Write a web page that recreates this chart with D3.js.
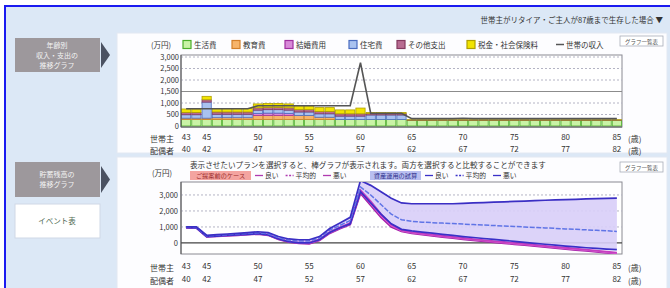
<!DOCTYPE html>
<html>
<head>
<meta charset="utf-8">
<script src="https://cdn.jsdelivr.net/npm/d3@7"></script>
<style>
  body{margin:0;background:#fff;}
  svg{display:block;font-family:"Noto Sans CJK JP","Noto Sans",sans-serif;}
</style>
</head>
<body>
<div id="chart"></div>
<script>
  // 年齢（世帯主）
  var ages = [43,44,45,46,47,48,49,50,51,52,53,54,55,56,57,58,59,60,61,62,63,64,65,66,67,68,69,70,71,72,73,74,75,76,77,78,79,80,81,82,83,84,85];
  var headTicks = [43,45,50,55,60,65,70,75,80,85];
  var spouseTicks = [40,42,47,52,57,62,67,72,77,82];
  var topTicks = [0,500,1000,1500,2000,2500,3000];
  var bottomTicks = [0,1000,2000,3000];

  // 支出の内訳（万円）
  var costKeys = ["生活費","教育費","結婚費用","住宅費","その他支出","税金・社会保険料"];
  var livingCost = [280,280,280,280,280,280,280,280,280,280, 280,280,280,280,280,280,280,280,280,280, 280,280,250,250,250,250,250,250,250,250, 250,250,250,250,250,250,250,250,250,250, 250,250,250];
  var educationCost = [60,60,60,80,80,80,80,180,180,180, 180,180,180,100,100,0,0,0,0,0, 0,0,0,0,0,0,0,0,0,0, 0,0,0,0,0,0,0,0,0,0, 0,0,0];
  var weddingCost = [0,0,0,0,0,0,0,80,100,100, 80,0,0,0,0,0,0,0,0,0, 0,0,0,0,0,0,0,0,0,0, 0,0,0,0,0,0,0,0,0,0, 0,0,0];
  var housingCost = [150,150,700,150,150,150,150,150,150,150, 150,150,150,150,150,150,150,150,200,200, 200,200,0,0,0,0,0,0,0,0, 0,0,0,0,0,0,0,0,0,0, 0,0,0];
  var otherCost = [100,100,100,100,100,100,100,100,100,100, 100,100,100,100,100,100,100,100,60,60, 60,60,10,10,10,10,10,10,10,10, 10,10,10,10,10,10,10,10,10,10, 10,10,10];
  var taxCost = [150,150,150,150,150,150,150,170,170,170, 170,170,170,170,170,170,170,250,50,50, 50,50,10,10,10,10,10,10,10,10, 10,10,10,10,10,10,10,10,10,10, 10,10,10];
  var householdIncome = [750,750,750,750,750,750,750,880,880,880, 880,880,880,880,880,880,880,2750,550,550, 550,550,320,320,320,320,320,340,320,320, 320,320,320,320,320,320,320,320,320,320, 320,320,320];

  // 貯蓄残高（万円）
  var afterGood = [1000,1000,480,520,560,600,650,700,650,400, 250,200,200,400,900,1250,1600,3900,3600,3200, 2800,2500,2450,2450,2450,2450,2450,2470,2500,2520, 2550,2570,2600,2620,2650,2670,2690,2710,2730,2750, 2770,2790,2800];
  var afterAvg = [980,970,440,480,520,560,600,640,580,330, 170,120,120,320,800,1100,1400,3500,3000,2400, 1800,1450,1350,1300,1270,1240,1210,1180,1150,1120, 1090,1060,1030,1000,970,940,910,880,850,820, 790,760,720];
  var afterBad = [950,940,400,430,470,500,540,580,500,250, 80,0,0,200,650,950,1200,3200,2500,1800, 1200,850,750,680,610,540,470,400,340,280, 220,160,100,40,-20,-80,-140,-200,-250,-300, -340,-380,-420];
  var beforeGood = [970,960,420,450,490,520,560,600,520,270, 100,20,20,220,680,980,1250,3300,2600,1800, 1150,800,680,600,520,450,380,310,240,180, 120,60,0,-60,-120,-180,-240,-300,-360,-420, -480,-540,-600];
  var beforeAvg = [960,950,400,430,470,500,540,580,500,250, 80,0,-20,180,640,940,1200,3200,2450,1700, 1080,760,640,560,480,410,340,270,200,140, 80,20,-40,-100,-160,-220,-280,-340,-400,-460, -520,-590,-650];
  var beforeBad = [950,930,380,410,450,480,520,560,480,230, 60,-20,-60,150,600,900,1150,3100,2350,1600, 1000,720,600,520,440,370,300,230,160,100, 40,-20,-80,-140,-200,-260,-320,-380,-440,-500, -560,-620,-680];

  var costFill = ["#c9f3a6","#f7b46a","#d88ad8","#a9c2f0","#b86c92","#f2e400"];
  var costStroke = ["#4cae2a","#d4802a","#a030a0","#4a6cc0","#843a60","#b0a000"];
  var legendX = [183,232,285,349,397,467];

  var W = 670, H = 288;
  var svg = d3.select("#chart").append("svg").attr("width", W).attr("height", H);

  drawFrame();
  drawTop();
  drawBottom();

  function drawFrame(){
    svg.append("rect").attr("x",5).attr("y",6).attr("width",W-5).attr("height",H-6).attr("fill","#dce8f6");
    svg.append("path").attr("d","M5,"+H+" V6 H"+W).attr("fill","none").attr("stroke","#1a1af0").attr("stroke-width",2);

    // 右上のプルダウン
    svg.append("text").attr("x",663).attr("y",23).attr("text-anchor","end")
      .attr("font-size",7.5).attr("fill","#333")
      .text("世帯主がリタイア・ご主人が87歳まで生存した場合 ▼");

    // パネル
    svg.append("rect").attr("x",117).attr("y",33).attr("width",550).attr("height",120)
      .attr("fill","#fdfdff").attr("stroke","#e2e8f2");
    svg.append("rect").attr("x",117).attr("y",157).attr("width",550).attr("height",132)
      .attr("fill","#fdfdff").attr("stroke","#e2e8f2");

    // 左のボタン
    var btns = [{y:38,h:34,lines:["年齢別","収入・支出の","推移グラフ"]},{y:162,h:35,lines:["貯蓄残高の","推移グラフ"]}];
    btns.forEach(function(b){
      svg.append("rect").attr("x",15).attr("y",b.y).attr("width",85).attr("height",b.h).attr("fill","#9d989c");
      svg.append("path").attr("d","M101,"+(b.y+4)+" L110,"+(b.y+b.h/2)+" L101,"+(b.y+b.h-4)+"Z").attr("fill","#4b5262");
      var top = b.y + b.h/2 - (b.lines.length-1)*5;
      b.lines.forEach(function(t,i){
        svg.append("text").attr("x",57).attr("y",top+i*10+2.5).attr("text-anchor","middle")
          .attr("font-size",7).attr("fill","#f4f4f4").text(t);
      });
    });
    svg.append("rect").attr("x",15).attr("y",204).attr("width",85).attr("height",34)
      .attr("fill","#fff").attr("stroke","#cfd8e6");
    svg.append("text").attr("x",57).attr("y",224).attr("text-anchor","middle")
      .attr("font-size",7.5).attr("fill","#4e6a52").text("イベント表");

    // グラフ一覧表ボタン
    [36,162].forEach(function(yy){
      svg.append("rect").attr("x",620).attr("y",yy).attr("width",43).attr("height",10)
        .attr("fill","#fff").attr("stroke","#a8adb8").attr("stroke-width",0.8);
      svg.append("text").attr("x",641.5).attr("y",yy+7.5).attr("text-anchor","middle")
        .attr("font-size",5.5).attr("fill","#555").text("グラフ一覧表");
    });
  }

  function ageAxes(g, x, y1, y2){
    var a1 = g.append("g").attr("transform","translate(0,"+y1+")")
      .call(d3.axisBottom(x).tickValues(headTicks).tickSize(0).tickPadding(3));
    var a2 = g.append("g").attr("transform","translate(0,"+y2+")")
      .call(d3.axisBottom(x).tickValues(headTicks).tickSize(0).tickPadding(3)
        .tickFormat(function(d,i){ return spouseTicks[i]; }));
    [a1,a2].forEach(function(a){
      a.select(".domain").remove();
      a.attr("font-family",null).attr("font-size",8);
      a.selectAll("text").attr("fill","#333");
    });
    g.append("text").attr("x",150).attr("y",y1+11).attr("font-size",8).attr("fill","#333").text("世帯主");
    g.append("text").attr("x",150).attr("y",y2+11).attr("font-size",8).attr("fill","#333").text("配偶者");
    g.append("text").attr("x",628).attr("y",y1+11).attr("font-size",8).attr("fill","#333").text("(歳)");
    g.append("text").attr("x",628).attr("y",y2+11).attr("font-size",8).attr("fill","#333").text("(歳)");
  }

  function yAxis(g, y, ticks, xx){
    var a = g.append("g").attr("transform","translate("+xx+",0)")
      .call(d3.axisLeft(y).tickValues(ticks).tickSize(0).tickPadding(0).tickFormat(d3.format(",")));
    a.select(".domain").remove();
    a.attr("font-family",null).attr("font-size",7.5);
    a.selectAll("text").attr("fill","#333");
  }

  //収入・支出グラフ
  function drawTop(){
    var x = d3.scaleBand().domain(ages).range([181,622]).paddingInner(0.1).paddingOuter(0.05);
    var y = d3.scaleLinear().domain([0,3000]).range([126,57]);
    var g = svg.append("g");

    g.append("rect").attr("x",181).attr("y",y(3000)-2).attr("width",441).attr("height",y(0)-y(3000)+3)
      .attr("fill","#fff").attr("stroke","#8a8a92").attr("stroke-width",1);

    g.selectAll(".grid").data(topTicks.filter(function(d){return d>0;})).enter().append("line")
      .attr("x1",181).attr("x2",622)
      .attr("y1",function(d){return y(d);}).attr("y2",function(d){return y(d);})
      .attr("stroke",function(d){return d==1500?"#8c8c8c":"#b4b4c4";})
      .attr("stroke-dasharray",function(d){return d==1500?null:"2,2";});

    var rows = ages.map(function(a,i){
      var r = {age:a};
      r[costKeys[0]] = livingCost[i];
      r[costKeys[1]] = educationCost[i];
      r[costKeys[2]] = weddingCost[i];
      r[costKeys[3]] = housingCost[i];
      r[costKeys[4]] = otherCost[i];
      r[costKeys[5]] = taxCost[i];
      return r;
    });
    var series = d3.stack().keys(costKeys)(rows);

    g.selectAll(".layer").data(series).enter().append("g")
      .attr("fill",function(d,i){return costFill[i];})
      .attr("stroke",function(d,i){return costStroke[i];})
      .attr("stroke-width",0.8)
      .selectAll("rect").data(function(d){return d.filter(function(p){return p[1]>p[0];});})
      .enter().append("rect")
      .attr("x",function(d){return x(d.data.age);})
      .attr("width",x.bandwidth())
      .attr("y",function(d){return y(d[1]);})
      .attr("height",function(d){return y(d[0])-y(d[1]);});

    var line = d3.line()
      .x(function(d,i){return x(ages[i])+x.bandwidth()/2;})
      .y(function(d){return y(d);});
    g.append("path").datum(householdIncome).attr("d",line)
      .attr("fill","none").attr("stroke","#555").attr("stroke-width",1.6);

    g.append("line").attr("x1",181).attr("x2",181).attr("y1",y(3000)-2).attr("y2",y(0)+1).attr("stroke","#555");
    g.append("line").attr("x1",181).attr("x2",622).attr("y1",y(0)+1).attr("y2",y(0)+1).attr("stroke","#555");

    yAxis(g, y, topTicks, 179);
    ageAxes(g, x, 131, 143);

    // 凡例
    g.append("text").attr("x",151).attr("y",47.5).attr("font-size",7.5).attr("fill","#333").text("(万円)");
    costKeys.forEach(function(k,i){
      g.append("rect").attr("x",legendX[i]).attr("y",40.5).attr("width",8).attr("height",8)
        .attr("fill",costFill[i]).attr("stroke",costStroke[i]).attr("stroke-width",1.2);
      g.append("text").attr("x",legendX[i]+11).attr("y",47.5).attr("font-size",7.5).attr("fill","#333").text(k);
    });
    g.append("line").attr("x1",556).attr("x2",564).attr("y1",44.5).attr("y2",44.5).attr("stroke","#555").attr("stroke-width",1.5);
    g.append("text").attr("x",566).attr("y",47.5).attr("font-size",7.5).attr("fill","#333").text("世帯の収入");
  }

  //貯蓄残高グラフ
  function drawBottom(){
    var x = d3.scaleBand().domain(ages).range([181,622]).paddingInner(0.1).paddingOuter(0.05);
    var y = d3.scaleLinear().domain([-690,3810]).range([254,182]);
    var g = svg.append("g");

    g.append("text").attr("x",190).attr("y",168).attr("font-size",7.6).attr("fill","#333")
      .text("表示させたいプランを選択すると、棒グラフが表示されます。両方を選択すると比較することができます");

    g.append("rect").attr("x",181).attr("y",182).attr("width",441).attr("height",72)
      .attr("fill","#fff").attr("stroke","#8a8a92");
    g.append("clipPath").attr("id","clipB").append("rect").attr("x",181).attr("y",182).attr("width",441).attr("height",72);

    g.selectAll(".gridB").data(bottomTicks).enter().append("line")
      .attr("x1",181).attr("x2",622)
      .attr("y1",function(d){return y(d);}).attr("y2",function(d){return y(d);})
      .attr("stroke",function(d){return d==0?"#444":"#b4b4c4";})
      .attr("stroke-width",function(d){return d==0?1.2:1;})
      .attr("stroke-dasharray",function(d){return d==0?null:"2,2";});

    var cx = function(d,i){return x(ages[i])+x.bandwidth()/2;};
    var plot = g.append("g").attr("clip-path","url(#clipB)");

    var areaAfter = d3.area().x(cx).y0(function(d,i){return y(afterBad[i]);}).y1(function(d,i){return y(afterGood[i]);});
    plot.append("path").datum(afterGood).attr("d",areaAfter).attr("fill","#d8cef8").attr("opacity",0.9);
    var areaBefore = d3.area().x(cx).y0(function(d,i){return y(beforeBad[i]);}).y1(function(d,i){return y(beforeGood[i]);});
    plot.append("path").datum(beforeGood).attr("d",areaBefore).attr("fill","#eab0ea");

    var line = d3.line().x(cx).y(function(d){return y(d);});
    var lines = [
      {d:beforeBad, c:"#a31fa8", w:1.8, dash:null},
      {d:beforeAvg, c:"#d95fd0", w:1.6, dash:null},
      {d:beforeGood, c:"#c43ec0", w:1.8, dash:null},
      {d:afterBad, c:"#3a30c8", w:1.7, dash:null},
      {d:afterAvg, c:"#5f74e6", w:1.5, dash:"5,1.5"},
      {d:afterGood, c:"#3b2fc4", w:1.7, dash:null}
    ];
    lines.forEach(function(l){
      plot.append("path").datum(l.d).attr("d",line).attr("fill","none")
        .attr("stroke",l.c).attr("stroke-width",l.w).attr("stroke-dasharray",l.dash);
    });

    g.append("line").attr("x1",181).attr("x2",181).attr("y1",182).attr("y2",254).attr("stroke","#555");

    yAxis(g, y, bottomTicks, 178);
    ageAxes(g, x, 260, 273);

    // 凡例
    g.append("text").attr("x",152).attr("y",176).attr("font-size",7.5).attr("fill","#333").text("(万円)");
    var groups = [
      {x:190, w:61, fill:"#f4a4a0", tc:"#9a2a2a", label:"ご提案前のケース", c:"#b03ab0"},
      {x:370, w:51, fill:"#b9bff0", tc:"#2a2a8a", label:"資産運用の試算", c:"#3a30c8"}
    ];
    groups.forEach(function(gr){
      g.append("rect").attr("x",gr.x).attr("y",171).attr("width",gr.w).attr("height",9).attr("fill",gr.fill);
      g.append("text").attr("x",gr.x+gr.w/2).attr("y",178.2).attr("text-anchor","middle")
        .attr("font-size",6.2).attr("fill",gr.tc).text(gr.label);
      var items = [{t:"良い",dash:null},{t:"平均的",dash:"2,1.5"},{t:"悪い",dash:null}];
      var xx = gr.x+gr.w+4;
      items.forEach(function(it){
        g.append("line").attr("x1",xx).attr("x2",xx+8).attr("y1",175.5).attr("y2",175.5)
          .attr("stroke",gr.c).attr("stroke-width",1.3).attr("stroke-dasharray",it.dash);
        var t = g.append("text").attr("x",xx+10).attr("y",178.2).attr("font-size",6.8).attr("fill","#333").text(it.t);
        xx += 10 + t.node().getComputedTextLength() + 7;
      });
    });
  }
</script>
</body>
</html>
